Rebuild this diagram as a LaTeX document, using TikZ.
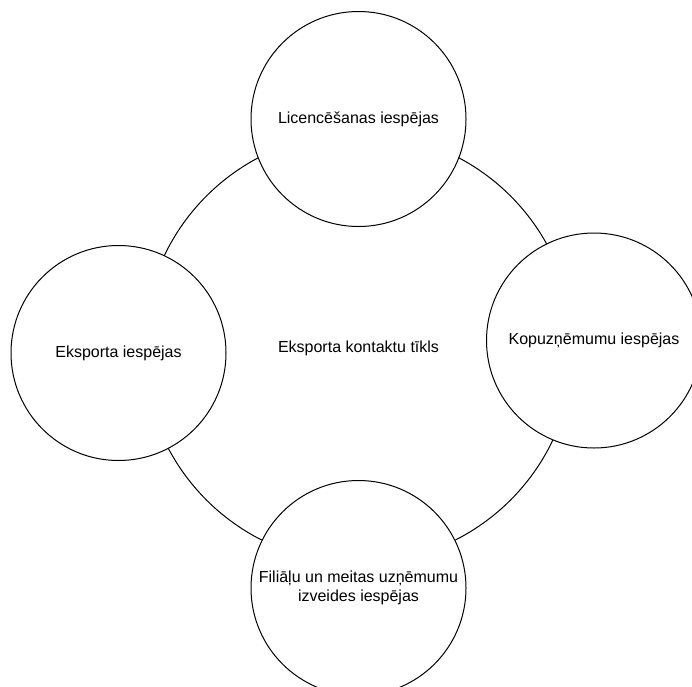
\documentclass[tikz,border=0pt]{standalone}
\usepackage{fontspec}
\setmainfont{Liberation Sans}
\usetikzlibrary{positioning}

\tikzset{
  bubble/.style={circle, draw, line width=1pt, fill=white, inner sep=0pt,
    minimum size=215pt, align=center, font=\fontsize{16}{19.5}\selectfont},
  hub/.style={bubble, minimum size=430pt, fill=none}
}

\begin{document}
\begin{tikzpicture}[line cap=round,line join=round,x=1pt,y=-1pt]
% Frame
\useasboundingbox (0,0) rectangle (692,686);
\clip (0,0) rectangle (692,686);

% Centres
\coordinate (N) at (358.5,348);
\coordinate (L) at (358.5,119);
\coordinate (E) at (118.5,353);
\coordinate (K) at (594,340.5);
\coordinate (F) at (358.5,588);

% Big circle
\node [hub] (net) at (N) {Eksporta kontaktu tīkls};

% Small circles
\node [bubble] (lic) at (L) {Licencēšanas iespējas};
\node [bubble] (exp) at (E) {Eksporta iespējas};
\node [bubble] (kop) at (K) {Kopuzņēmumu iespējas};
\node [bubble] (fil) at (F) {Filiāļu un meitas uzņēmumu\\izveides iespējas};
\end{tikzpicture}
\end{document}
